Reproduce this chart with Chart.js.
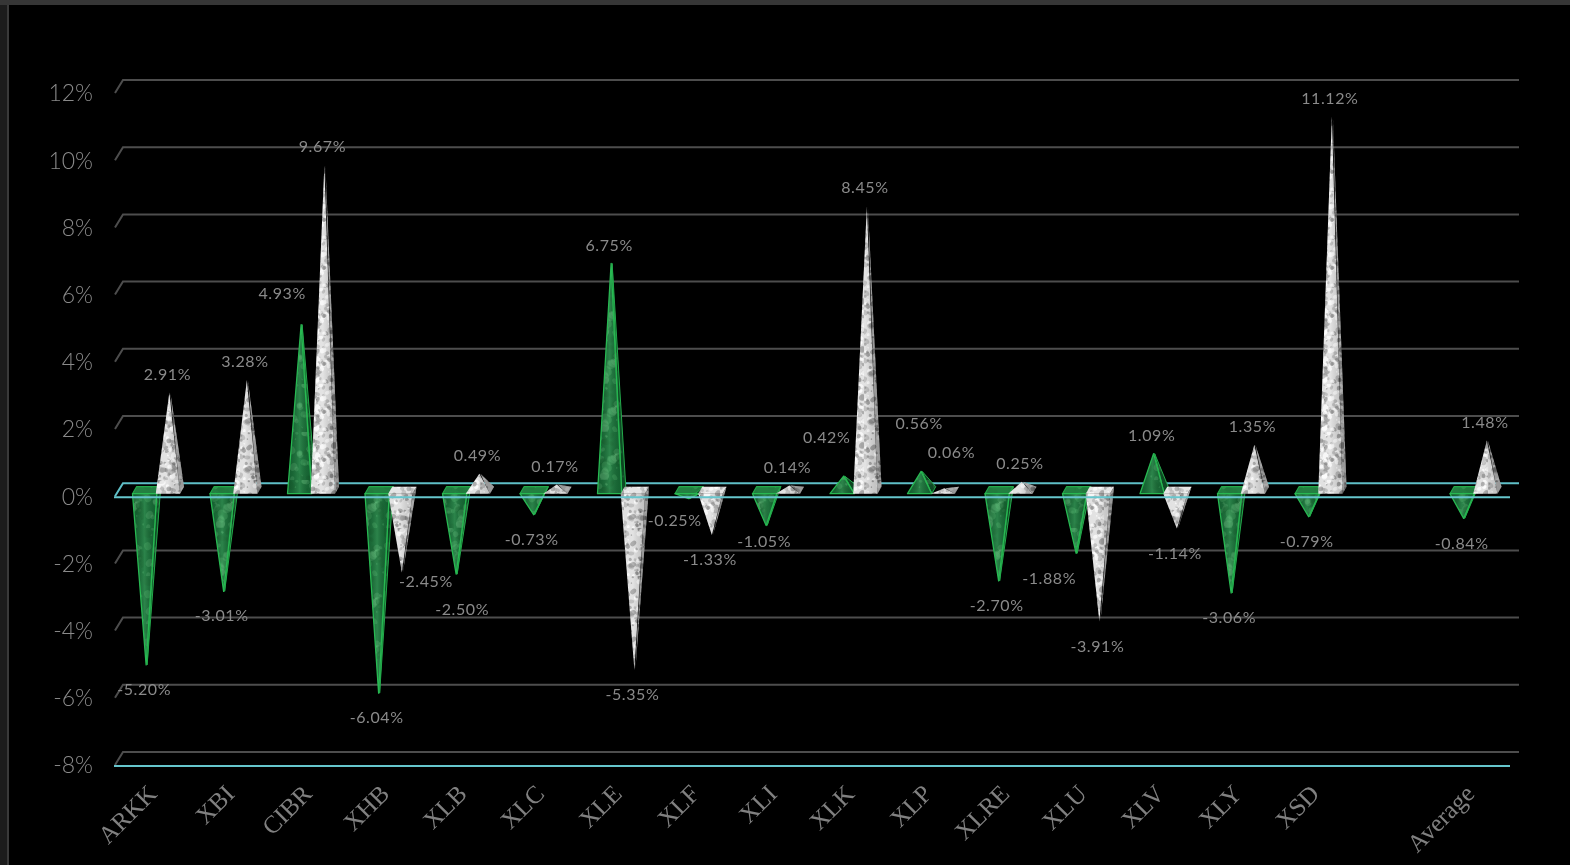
<!DOCTYPE html>
<html>
<head>
<meta charset="utf-8">
<script src="https://cdn.jsdelivr.net/npm/chart.js@4.4.1/dist/chart.umd.min.js"></script>
<style>
  html, body { margin: 0; padding: 0; background: #000; }
  body { width: 1570px; height: 865px; position: relative; overflow: hidden; }
  #topbar { position: absolute; left: 0; top: 0; width: 1570px; height: 5px; background: #363636; }
  #leftbar { position: absolute; left: 0; top: 0; width: 7px; height: 865px; background: #1c1c1c; }
  #leftline { position: absolute; left: 7px; top: 0; width: 2px; height: 865px; background: #3a3a3a; }
  #wrap { position: absolute; left: 0; top: 0; width: 1570px; height: 865px; }
</style>
</head>
<body>
<div id="leftbar"></div>
<div id="leftline"></div>
<div id="topbar"></div>
<div id="wrap"><canvas id="myChart"></canvas></div>
<script>
// dados
var categorias = ['ARKK', 'XBI', 'CIBR', 'XHB', 'XLB', 'XLC', 'XLE', 'XLF', 'XLI', 'XLK', 'XLP', 'XLRE', 'XLU', 'XLV', 'XLY', 'XSD', '', 'Average'];
var serieVerde = [-5.20, -3.01, 4.93, -6.04, -2.50, -0.73, 6.75, -0.25, -1.05, 0.42, 0.56, -2.70, -1.88, 1.09, -3.06, -0.79, null, -0.84];
var serieBranca = [2.91, 3.28, 9.67, -2.45, 0.49, 0.17, -5.35, -1.33, 0.14, 8.45, 0.06, 0.25, -3.91, -1.14, 1.35, 11.12, null, 1.48];
var yMin = -8;
var yMax = 12;
var yPasso = 2;

// deslocamento de alguns rotulos (como o excel fez para nao sobrepor)
var ajusteRotulos = {
  'CIBR-0': [-17, -13],
  'XHB-1': [26, -16],
  'XLB-0': [8, 11],
  'XLF-0': [-12, -3],
  'XLI-0': [0, -9],
  'XLK-0': [-15, -20],
  'XLP-0': [0, -30],
  'XLP-1': [9, -17],
  'XLU-0': [-25, 0]
};

// profundidade do efeito 3d
var profX = 8;
var profY = 14;

// ruido deterministico so para a textura
function hash(i, j) {
  var n = Math.sin(i * 12.9898 + j * 78.233) * 43758.5453;
  return n - Math.floor(n);
}

function criarTextura(base, manchas, qtd, rMax) {
  var c = document.createElement('canvas');
  c.width = 48; c.height = 48;
  var g = c.getContext('2d');
  g.fillStyle = base;
  g.fillRect(0, 0, 48, 48);
  for (var k = 0; k < qtd; k++) {
    var x = hash(k, 1) * 48, y = hash(k, 2) * 48, r = 0.6 + hash(k, 3) * rMax;
    g.fillStyle = manchas[k % manchas.length];
    g.beginPath();
    g.ellipse(x, y, r, r * (0.6 + hash(k, 4)), hash(k, 5) * 3, 0, Math.PI * 2);
    g.fill();
  }
  return c;
}

var texVerde = criarTextura('#166a35', ['rgba(80,175,105,0.35)', 'rgba(20,95,45,0.6)', 'rgba(120,200,140,0.25)'], 60, 4);
var texBranca = criarTextura('#dcdcdc', ['rgba(85,85,85,0.5)', 'rgba(135,135,135,0.5)', 'rgba(255,255,255,0.7)'], 140, 2.2);

function desenharPiramide(ctx, cx, y0, yTip, w, verde) {
  var pat = ctx.createPattern(verde ? texVerde : texBranca, 'repeat');
  var hy = profY / 2;
  var esq = cx - w / 2, dir = cx + w / 2 - 3;
  var frenteY = y0 + hy * 0.5, fundoY = y0 - hy * 0.5;
  var negativo = yTip > y0;

  ctx.save();
  ctx.lineJoin = 'round';

  if (negativo) {
    // face de cima
    ctx.beginPath();
    ctx.moveTo(esq, frenteY);
    ctx.lineTo(dir, frenteY);
    ctx.lineTo(dir + 4, fundoY);
    ctx.lineTo(esq + 4, fundoY);
    ctx.closePath();
    ctx.fillStyle = pat;
    ctx.fill();
    ctx.fillStyle = verde ? 'rgba(60,170,90,0.35)' : 'rgba(255,255,255,0.25)';
    ctx.fill();
    if (verde) { ctx.strokeStyle = '#23a94a'; ctx.lineWidth = 1.2; ctx.stroke(); }
  }

  // face lateral
  ctx.beginPath();
  ctx.moveTo(dir, frenteY);
  ctx.lineTo(dir + 4, fundoY);
  ctx.lineTo(cx + 1, yTip);
  ctx.closePath();
  ctx.fillStyle = pat;
  ctx.fill();
  ctx.fillStyle = verde ? 'rgba(0,0,0,0.3)' : 'rgba(0,0,0,0.3)';
  ctx.fill();
  if (verde) { ctx.strokeStyle = '#23a94a'; ctx.lineWidth = 1; ctx.stroke(); }

  // face da frente
  ctx.beginPath();
  ctx.moveTo(esq, frenteY);
  ctx.lineTo(dir, frenteY);
  ctx.lineTo(cx, yTip);
  ctx.closePath();
  ctx.fillStyle = pat;
  ctx.fill();
  var grad = ctx.createLinearGradient(esq, 0, dir, 0);
  if (verde) {
    grad.addColorStop(0, 'rgba(0,0,0,0.12)');
    grad.addColorStop(0.5, 'rgba(100,200,130,0.28)');
    grad.addColorStop(1, 'rgba(0,0,0,0.08)');
  } else {
    grad.addColorStop(0, 'rgba(255,255,255,0.15)');
    grad.addColorStop(0.5, 'rgba(255,255,255,0.2)');
    grad.addColorStop(1, 'rgba(0,0,0,0.12)');
  }
  ctx.fillStyle = grad;
  ctx.fill();
  if (verde) { ctx.strokeStyle = '#28b852'; ctx.lineWidth = 1.3; ctx.stroke(); }
  ctx.restore();
}

var pluginGrade = {
  id: 'grade3d',
  beforeDatasetsDraw: function (chart) {
    var ctx = chart.ctx, area = chart.chartArea, y = chart.scales.y;
    ctx.save();
    ctx.lineWidth = 2;
    for (var v = yMin; v <= yMax; v += yPasso) {
      var py = y.getPixelForValue(v);
      ctx.strokeStyle = v === 0 ? '#5fbfc7' : '#4d4d4d';
      ctx.beginPath();
      ctx.moveTo(area.left, py - 1);
      ctx.lineTo(area.left + profX, py - profY);
      ctx.lineTo(area.right + profX + 1, py - profY);
      ctx.stroke();
    }
    ctx.restore();
  },
  afterDatasetsDraw: function (chart) {
    var ctx = chart.ctx, area = chart.chartArea, y = chart.scales.y;
    var hx = profX / 2, hy = profY / 2;

    // piramides
    chart.data.datasets.forEach(function (ds, i) {
      var meta = chart.getDatasetMeta(i);
      meta.data.forEach(function (el, j) {
        if (ds.data[j] === null || isNaN(el.y)) return;
        desenharPiramide(ctx, el.x + hx, el.base - hy, el.y - hy, el.width + 4, i === 0);
      });
    });

    // linhas da frente
    ctx.save();
    ctx.strokeStyle = '#66c6cd';
    ctx.lineWidth = 2;
    [0, yMin].forEach(function (v) {
      var py = y.getPixelForValue(v);
      ctx.beginPath();
      ctx.moveTo(area.left - 1, py);
      ctx.lineTo(area.right, py);
      ctx.stroke();
    });
    ctx.restore();

    // rotulos
    ctx.save();
    ctx.font = '16px Lato';
    ctx.letterSpacing = '0.6px';
    ctx.fillStyle = '#8a8a8a';
    ctx.textAlign = 'center';
    ctx.textBaseline = 'middle';
    chart.data.datasets.forEach(function (ds, i) {
      var meta = chart.getDatasetMeta(i);
      meta.data.forEach(function (el, j) {
        var v = ds.data[j];
        if (v === null) return;
        var aj = ajusteRotulos[categorias[j] + '-' + i] || [0, 0];
        var ly = v >= 0 ? el.y - 25 : el.y + 18;
        ctx.fillText(v.toFixed(2) + '%', el.x + 2 + aj[0], ly + aj[1]);
      });
    });
    ctx.restore();
  }
};

var ctx = document.getElementById('myChart');

new Chart(ctx, {
  type: 'bar',
  data: {
    labels: categorias,
    datasets: [{
      label: 'verde',
      data: serieVerde,
      backgroundColor: 'rgba(0,0,0,0)',
      borderWidth: 0
    }, {
      label: 'branca',
      data: serieBranca,
      backgroundColor: 'rgba(0,0,0,0)',
      borderWidth: 0
    }]
  },
  options: {
    responsive: true,
    maintainAspectRatio: false,
    animation: false,
    events: [],
    datasets: {
      bar: { categoryPercentage: 0.6, barPercentage: 1.0 }
    },
    layout: { padding: { top: 94, right: 60, left: 0, bottom: 0 } },
    plugins: {
      legend: { display: false },
      tooltip: { enabled: false }
    },
    scales: {
      x: {
        grid: { display: false, drawTicks: false },
        border: { display: false },
        afterFit: function (s) { s.height = 99; },
        ticks: {
          autoSkip: false,
          minRotation: 45,
          maxRotation: 45,
          padding: 14,
          color: '#808080',
          font: { family: 'Liberation Serif', size: 25 }
        }
      },
      y: {
        min: yMin,
        max: yMax,
        grid: { display: false, drawTicks: false },
        border: { display: false },
        afterFit: function (s) { s.width = 115; },
        ticks: {
          stepSize: yPasso,
          padding: 22,
          color: '#8a8a8a',
          font: { family: 'Lato', size: 23, weight: '300' },
          callback: function (v) { return v + '%'; }
        }
      }
    }
  },
  plugins: [pluginGrade]
});
</script>
</body>
</html>
